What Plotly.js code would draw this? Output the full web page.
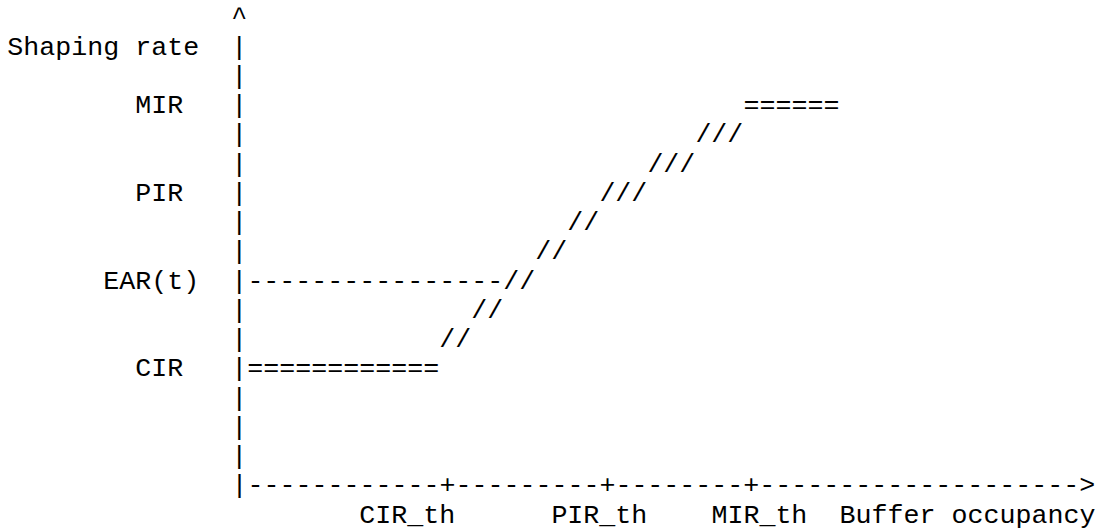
<!DOCTYPE html>
<html>
<head>
<meta charset="utf-8">
<script src="https://cdn.plot.ly/plotly-3.0.1.min.js"></script>
<style>
html, body { margin: 0; padding: 0; background: #ffffff; }
#chart { width: 1100px; height: 531px; }
</style>
</head>
<body>
<div id="chart"></div>
<script>
// ---- Data (character-grid units: column, text row) ----
// Vertical axis (shaping rate) labels
const rateLabels    = ["Shaping rate", "MIR", "PIR", "EAR(t)", "CIR"];
const rateLabelRows = [1, 3, 6, 9, 12];
const rateLabelCols = [0, 8, 8, 6, 8];

// Horizontal axis (buffer occupancy) thresholds
const thresholdLabels    = ["CIR_th", "PIR_th", "MIR_th", "Buffer occupancy"];
const thresholdLabelCols = [22, 34, 44, 52];
const thresholdTickCols  = [27, 37, 46];

// Rate curve drawn as ASCII pieces
const curvePieces = ["======", "///", "///", "///", "//", "//", "----------------//", "//", "//", "============"];
const curveRows   = [3, 4, 5, 6, 7, 8, 9, 10, 11, 12];
const curveCols   = [46, 43, 40, 37, 35, 33, 15, 29, 27, 15];

// Axis frame
const axisCol = 14;
const axisTopRow = 0;
const axisBottomRow = 16;
const arrowCol = 67;
const labelRow = 17;

// ---- Layout constants (pixels) ----
const FS = 26.67;           // font size (px) = 20pt
const CW = FS * 0.6;        // monospace advance
const X0 = 7.3;             // left pixel of column 0
const ROW_H = 29.24;        // pixel line height
const Y0 = 18.8;            // pixel centre of row 0
const W = 1100, H = 531;

// ---- Build text fragments ----
const fragText = [], fragCol = [], fragRow = [];
function add(t, c, r) { fragText.push(t); fragCol.push(c); fragRow.push(r); }

add("^", axisCol, axisTopRow);
for (let r = axisTopRow + 1; r < axisBottomRow; r++) add("|", axisCol, r);
let axisLine = "|";
for (let c = axisCol + 1; c < arrowCol; c++) axisLine += thresholdTickCols.includes(c) ? "+" : "-";
axisLine += ">";
add(axisLine, axisCol, axisBottomRow);

rateLabels.forEach((t, i) => add(t, rateLabelCols[i], rateLabelRows[i]));
thresholdLabels.forEach((t, i) => add(t, thresholdLabelCols[i], labelRow));
curvePieces.forEach((t, i) => add(t, curveCols[i], curveRows[i]));

const trace = {
  type: "scatter",
  mode: "text",
  x: fragText.map((t, i) => fragCol[i] + t.length / 2),
  y: fragRow,
  text: fragText,
  textposition: "middle center",
  textfont: { family: "'Courier New', 'Liberation Mono', monospace", size: FS, color: "#000000" },
  cliponaxis: false,
  hoverinfo: "skip",
  showlegend: false
};

const layout = {
  width: W, height: H,
  margin: { l: 0, r: 0, t: 0, b: 0, pad: 0 },
  paper_bgcolor: "#ffffff",
  plot_bgcolor: "#ffffff",
  showlegend: false,
  xaxis: { visible: false, range: [-X0 / CW, (W - X0) / CW], fixedrange: true },
  yaxis: { visible: false, range: [(H - Y0) / ROW_H, -Y0 / ROW_H], fixedrange: true },
  hovermode: false
};

Plotly.newPlot("chart", [trace], layout, { displayModeBar: false, staticPlot: true });
</script>
</body>
</html>
